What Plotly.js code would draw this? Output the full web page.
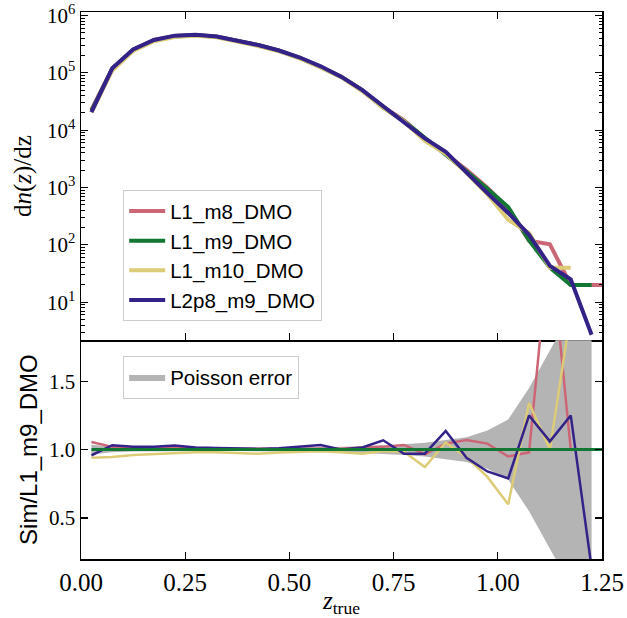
<!DOCTYPE html>
<html>
<head>
<meta charset="utf-8">
<script src="https://cdn.plot.ly/plotly-3.0.1.min.js"></script>
<style>html,body{margin:0;padding:0;background:#fff;}#chart{width:627px;height:618px;}</style>
</head>
<body>
<div id="chart"></div>
<script>
// bin centres (z_true)
const zBins = [0.025,0.075,0.125,0.175,0.225,0.275,0.325,0.375,0.425,0.475,0.525,0.575,0.625,0.675,0.725,0.775,0.825,0.875,0.925,0.975,1.025,1.075,1.125,1.175,1.225];
const zPink = [0.025,0.075,0.125,0.175,0.225,0.275,0.325,0.375,0.425,0.475,0.525,0.575,0.625,0.675,0.725,0.775,0.825,0.875,0.925,0.975,1.025,1.075,1.125,1.175,1.225,1.275];
const zYellow = [0.025,0.075,0.125,0.175,0.225,0.275,0.325,0.375,0.425,0.475,0.525,0.575,0.625,0.675,0.725,0.775,0.825,0.875,0.925,0.975,1.025,1.075,1.125,1.175];

// dn(z)/dz
const dndz_L1_m8 = [2.28e4,1.186e5,2.54e5,3.74e5,4.38e5,4.58e5,4.29e5,3.63e5,3.05e5,2.44e5,1.83e5,1.27e5,8.56e4,5.0e4,2.53e4,1.49e4,7170,3850,2040,994,433,118,102,20,20,20];
const dndz_L1_m9 = [2.16e4,1.163e5,2.5e5,3.68e5,4.32e5,4.53e5,4.25e5,3.61e5,3.03e5,2.43e5,1.81e5,1.26e5,8.5e4,4.93e4,2.48e4,1.44e4,7420,3690,1910,952,456,120,40,20,20];
const dndz_L1_m10 = [2.03e4,1.1e5,2.4e5,3.56e5,4.22e5,4.44e5,4.17e5,3.52e5,2.94e5,2.38e5,1.78e5,1.24e5,8.33e4,4.78e4,2.46e4,1.42e4,6480,3870,1810,762,274,161,40,40];
const dndz_L2p8_m9 = [2.07e4,1.2e5,2.55e5,3.75e5,4.45e5,4.6e5,4.3e5,3.65e5,3.05e5,2.45e5,1.85e5,1.3e5,8.5e4,5.0e4,2.65e4,1.4e4,7200,4200,1800,800,360,150,43,25,2.7];

// Sim / L1_m9_DMO
const ratio_L1_m8 = [1.056,1.02,1.015,1.015,1.015,1.01,1.01,1.006,1.007,1.005,1.01,1.01,1.007,1.015,1.02,1.034,0.966,1.044,1.07,1.044,0.95,0.98,2.55,1.0,1.0];
const ratio_L1_m9 = [1,1,1,1,1,1,1,1,1,1,1,1,1,1,1,1,1,1,1,1,1,1,1,1,1,1];
const ratio_L1_m10 = [0.94,0.946,0.96,0.968,0.976,0.98,0.98,0.976,0.97,0.978,0.985,0.988,0.98,0.97,0.99,0.985,0.873,1.05,0.946,0.8,0.6,1.34,1.0,2.0];
const ratio_L2p8_m9 = [0.958,1.032,1.02,1.02,1.03,1.015,1.012,1.01,1.005,1.01,1.02,1.034,1.0,1.015,1.068,0.97,0.97,1.137,0.94,0.84,0.79,1.25,1.06,1.25,0.135];

// Poisson error band
const poissonUpper = [1.035,1.02,1.013,1.011,1.01,1.01,1.01,1.01,1.011,1.012,1.014,1.016,1.02,1.025,1.03,1.04,1.05,1.068,1.09,1.14,1.22,1.45,1.72,2.0,2.0];
const poissonLower = [0.965,0.98,0.987,0.989,0.99,0.99,0.99,0.99,0.989,0.988,0.986,0.984,0.98,0.975,0.97,0.96,0.95,0.932,0.91,0.86,0.78,0.55,0.28,0.0,0.0];

const names = ['L1_m8_DMO','L1_m9_DMO','L1_m10_DMO','L2p8_m9_DMO'];
const colors = ['#CC6677','#117733','#DDCC77','#332288'];
const yTickVals = [10,100,1000,10000,100000,1000000];
const yTickText = ['10<sup>1</sup>','10<sup>2</sup>','10<sup>3</sup>','10<sup>4</sup>','10<sup>5</sup>','10<sup>6</sup>'];
const ratioTicks = [0.5,1.0,1.5];
const ratioTickText = ['0.5','1.0','1.5'];
const xTicks = [0,0.25,0.5,0.75,1.0,1.25];
const xTickText = ['0.00','0.25','0.50','0.75','1.00','1.25'];

const minorVals = [];
for (let e = 0; e <= 6; e++) for (let m = 2; m <= 9; m++) minorVals.push(m * Math.pow(10, e));

const fontA = 'Times New Roman';
const fontB = 'serif';
const fontC = 'Liberation Serif';
const sans = 'Liberation Sans';

const topX = [zPink, zBins, zYellow, zBins];
const topY = [dndz_L1_m8, dndz_L1_m9, dndz_L1_m10, dndz_L2p8_m9];
const traces = [];

// bottom panel: band
traces.push({x: zBins, y: poissonLower, xaxis:'x2', yaxis:'y2', mode:'lines', line:{width:0, color:'#b4b4b4'}, showlegend:false, hoverinfo:'skip'});
traces.push({x: zBins, y: poissonUpper, xaxis:'x2', yaxis:'y2', mode:'lines', fill:'tonexty', fillcolor:'#b4b4b4', line:{width:0, color:'#b4b4b4'}, name:'Poisson error', legend:'legend2', showlegend:true});

const ratioX = [zBins, zPink, zYellow, zBins];
const ratioY = [ratio_L1_m8, ratio_L1_m9, ratio_L1_m10, ratio_L2p8_m9];
[0,2,3,1].forEach(i => {
  traces.push({x: ratioX[i], y: ratioY[i], xaxis:'x2', yaxis:'y2', mode:'lines', line:{color: colors[i], width: i===1?3:2.5}, showlegend:false});
});

for (let i = 0; i < 4; i++) {
  traces.push({x: topX[i], y: topY[i], xaxis:'x', yaxis:'y', mode:'lines', name: names[i], line:{color: colors[i], width: 4}, legend:'legend'});
}

const axCommon = {showline:true, linecolor:'#000', linewidth:1.5, mirror:'allticks', ticks:'inside', ticklen:7, tickwidth:1.2, tickcolor:'#000', showgrid:false, zeroline:false};

const layout = {
  width: 627, height: 618,
  margin: {l:81, r:25, t:12, b:59},
  paper_bgcolor:'#fff', plot_bgcolor:'#fff',
  font: {family: fontA, color:'#000'},
  xaxis: Object.assign({}, axCommon, {domain:[0,1], anchor:'y', range:[0,1.25], tickvals:xTicks, showticklabels:false}),
  yaxis: Object.assign({}, axCommon, {domain:[0.4,1], anchor:'x', type:'log', range:[0.337,6.061], tickvals:yTickVals, ticktext:yTickText, tickfont:{family:fontB, size:21},
    minor:{tickvals:minorVals, ticks:'inside', ticklen:3.5, tickwidth:1, tickcolor:'#000', showgrid:false},
    title:{text:'d<i>n</i>(<i>z</i>)/dz', font:{family:fontA, size:25}, standoff:8}}),
  xaxis2: Object.assign({}, axCommon, {mirror:false, domain:[0,1], anchor:'y2', range:[0,1.25], tickvals:xTicks, ticktext:xTickText, tickfont:{family:fontA, size:25},
    title:{text:'<i>z</i><sub>true</sub>', font:{family:fontA, size:25}, standoff:4}}),
  yaxis2: Object.assign({}, axCommon, {domain:[0,0.4], anchor:'x2', range:[0.2,1.8], tickvals:ratioTicks, ticktext:ratioTickText, tickfont:{family:fontC, size:21},
    title:{text:'Sim/L1_m9_DMO', font:{family:sans, size:24}, standoff:4}}),
  legend: {x:0.0806, y:0.6746, xanchor:'left', yanchor:'top', bgcolor:'rgba(255,255,255,0.85)', bordercolor:'#cccccc', borderwidth:1.2, font:{family:sans, size:20.5, color:'#000'}, itemwidth:36, tracegroupgap:0},
  legend2: {x:0.0806, y:0.371, xanchor:'left', yanchor:'top', bgcolor:'rgba(255,255,255,0.85)', bordercolor:'#cccccc', borderwidth:1.2, font:{family:sans, size:20.5, color:'#000'}, itemwidth:36},
  showlegend: true
};

Plotly.newPlot('chart', traces, layout, {staticPlot:true, displayModeBar:false});
</script>
</body>
</html>
